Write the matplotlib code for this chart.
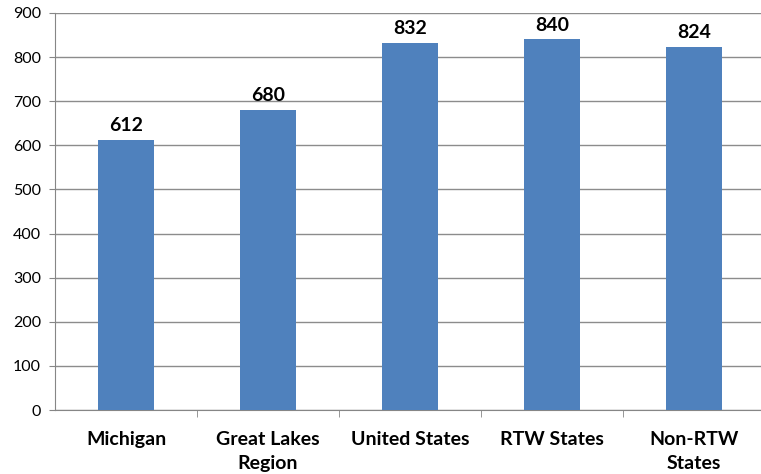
import matplotlib
matplotlib.use("Agg")
import matplotlib.pyplot as plt
import numpy as np

categories = ['Michigan', 'Great Lakes\nRegion', 'United States', 'RTW States', 'Non-RTW\nStates']
values = [612, 680, 832, 840, 824]

plt.rcParams['font.family'] = ['Lato', 'DejaVu Sans']

fig = plt.figure(figsize=(7.61, 4.74), dpi=100)
ax = fig.add_axes([55 / 761, 1 - 410 / 474, 710 / 761, 397 / 474])

x = np.arange(len(categories))
bars = ax.bar(x, values, width=0.4, color='#4F81BD', zorder=3)

for xi, v in zip(x, values):
    ax.text(xi, v + 13, str(v), ha='center', va='bottom',
            fontsize=14, fontweight='bold', color='black')

ax.set_xlim(-0.5, len(categories) - 0.5)
ax.set_ylim(0, 900)
ax.set_yticks(range(0, 901, 100))
ax.tick_params(axis='y', labelsize=11.5, length=4, color='#868686', pad=6)
ax.yaxis.grid(True, color='#8c8c8c', linewidth=1)
ax.set_axisbelow(True)

ax.set_xticks(x)
ax.set_xticklabels(categories, fontsize=14, fontweight='bold', linespacing=1.5)
ax.tick_params(axis='x', length=0, pad=15)
ax.set_xticks(np.arange(0.5, len(categories) - 0.5, 1), minor=True)
ax.tick_params(axis='x', which='minor', length=5, color='#868686')

for s in ['top', 'right']:
    ax.spines[s].set_visible(False)
ax.spines['left'].set_color('#868686')
ax.spines['bottom'].set_color('#868686')

fig.savefig('out.png', dpi=100)
